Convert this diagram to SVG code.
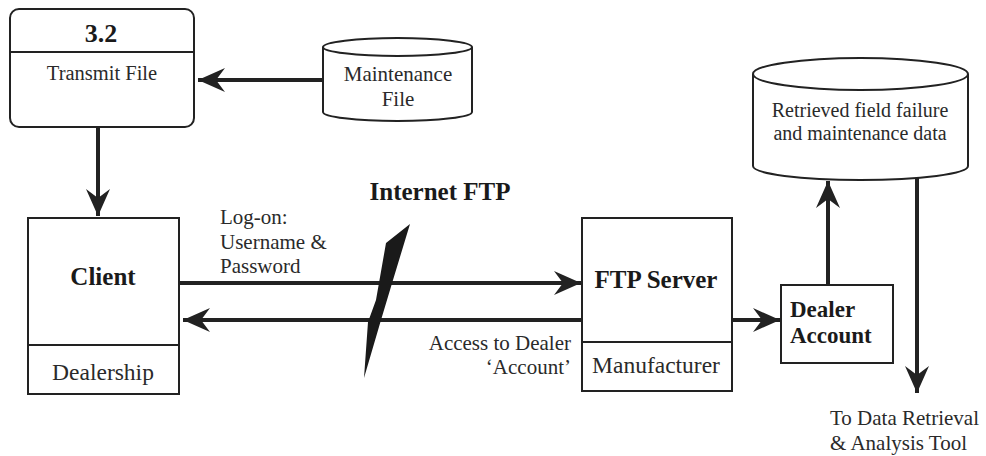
<svg xmlns="http://www.w3.org/2000/svg" width="986" height="456" viewBox="0 0 986 456">
<defs>
<style>
.box{fill:#fff;stroke:#222;stroke-width:2}
.conn{fill:none;stroke:#222;stroke-width:4}
.t{font-family:"Liberation Serif","Times New Roman",serif;fill:#2a2a2a}
.b{font-weight:bold;fill:#1a1a1a}
</style>
<marker id="ah" markerUnits="userSpaceOnUse" markerWidth="30" markerHeight="30" viewBox="-28 -14 30 28" refX="0" refY="0" orient="auto">
<path d="M0,0 L-27,-12 L-18,0 L-27,12 Z" fill="#222"/>
</marker>
</defs>
<rect width="986" height="456" fill="#fff"/>

<g id="connectors">
<line class="conn" x1="322" y1="80" x2="198" y2="80" marker-end="url(#ah)"/>
<line class="conn" x1="98" y1="127" x2="98" y2="216" marker-end="url(#ah)"/>
<line class="conn" x1="179" y1="283" x2="581" y2="283" marker-end="url(#ah)"/>
<line class="conn" x1="582" y1="320" x2="183" y2="320" marker-end="url(#ah)"/>
<line class="conn" x1="732" y1="320" x2="780" y2="320" marker-end="url(#ah)"/>
<line class="conn" x1="828" y1="285" x2="828" y2="181" marker-end="url(#ah)"/>
<line class="conn" x1="917" y1="178" x2="917" y2="393" marker-end="url(#ah)"/>
</g>

<g id="transmit-file">
<rect class="box" x="10" y="9" width="184" height="118" rx="9"/>
<line x1="10" y1="52" x2="194" y2="52" stroke="#222" stroke-width="2"/>
<text class="t b" x="101" y="42" font-size="26" text-anchor="middle">3.2</text>
<text class="t" x="102" y="80" font-size="20.5" text-anchor="middle">Transmit File</text>
</g>

<g id="maintenance-file">
<path class="box" d="M323,47 L323,112 A74.5,9 0 0 0 472,112 L472,47"/>
<ellipse class="box" cx="397.5" cy="47" rx="74.5" ry="9"/>
<text class="t" x="398" y="81" font-size="21" text-anchor="middle">Maintenance</text>
<text class="t" x="398" y="106" font-size="21" text-anchor="middle">File</text>
</g>

<g id="retrieved-data">
<path class="box" d="M753,74 L753,166 A107.5,14 0 0 0 968,166 L968,74"/>
<ellipse class="box" cx="860.5" cy="74" rx="107.5" ry="16"/>
<text class="t" x="860" y="117" font-size="20" text-anchor="middle">Retrieved field failure</text>
<text class="t" x="860" y="140" font-size="20" text-anchor="middle">and maintenance data</text>
</g>

<g id="client">
<rect class="box" x="28" y="218" width="151" height="176"/>
<line x1="28" y1="345" x2="179" y2="345" stroke="#222" stroke-width="2"/>
<text class="t b" x="103" y="285" font-size="25" text-anchor="middle">Client</text>
<text class="t" x="103" y="380" font-size="23.5" text-anchor="middle">Dealership</text>
</g>

<g id="internet-ftp">
<text class="t b" x="440" y="200" font-size="25" text-anchor="middle">Internet FTP</text>
<polygon points="410,224 386,243 376,300 368,322 364,378 381,320 393,280" fill="#1a1a1a"/>
</g>

<g id="labels">
<text class="t" font-size="21"><tspan x="220" y="224">Log-on:</tspan><tspan x="220" y="249">Username &amp;</tspan><tspan x="220" y="273">Password</tspan></text>
<text class="t" font-size="21" text-anchor="end"><tspan x="571" y="350">Access to Dealer</tspan><tspan x="571" y="374">‘Account’</tspan></text>
<text class="t" font-size="21"><tspan x="830" y="425">To Data Retrieval</tspan><tspan x="830" y="450">&amp; Analysis Tool</tspan></text>
</g>

<g id="ftp-server">
<rect class="box" x="582" y="218" width="150" height="173"/>
<line x1="582" y1="342" x2="732" y2="342" stroke="#222" stroke-width="2"/>
<text class="t b" x="656" y="288" font-size="25" text-anchor="middle">FTP Server</text>
<text class="t" x="656" y="373" font-size="23.5" text-anchor="middle">Manufacturer</text>
</g>

<g id="dealer-account">
<rect class="box" x="781" y="285" width="112" height="78"/>
<text class="t b" x="790" y="317" font-size="23">Dealer</text>
<text class="t b" x="790" y="343" font-size="23">Account</text>
</g>
</svg>
